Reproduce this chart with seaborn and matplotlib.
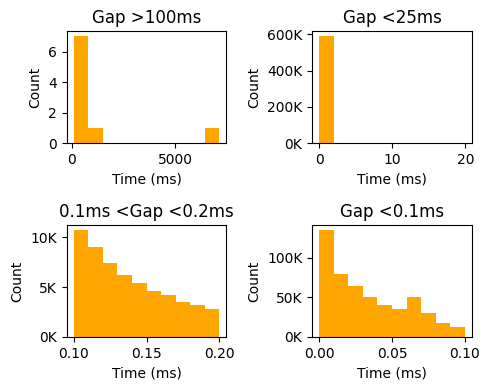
import pandas as pd
import seaborn as sns
import matplotlib.pyplot as plt
from matplotlib.ticker import FuncFormatter

# bin ranges (lo, hi) and counts per bin
gt100_range = (100, 7140)
gt100_counts = [7, 1, 0, 0, 0, 0, 0, 0, 0, 1]

lt25_range = (0, 19.9)
lt25_counts = [589000, 900, 300, 150, 80, 40, 20, 10, 5, 2]

mid_range = (0.1, 0.2)
mid_counts = [10700, 9000, 7420, 6230, 5430, 4640, 4240, 3540, 3150, 2750]

lt01_range = (0.0, 0.1)
lt01_counts = [134600, 79600, 63700, 50800, 40800, 34600, 50800, 30000, 17100, 12900]

panels = [
    ("Gap >100ms", gt100_range, gt100_counts, False),
    ("Gap <25ms", lt25_range, lt25_counts, True),
    ("0.1ms <Gap <0.2ms", mid_range, mid_counts, True),
    ("Gap <0.1ms", lt01_range, lt01_counts, True),
]

kfmt = FuncFormatter(lambda v, pos: f"{v/1000:.0f}K")

fig, axes = plt.subplots(2, 2, figsize=(4.9, 3.89), dpi=100)

for ax, (title, rng, counts, use_k) in zip(axes.flat, panels):
    nb = len(counts)
    w = (rng[1] - rng[0]) / nb
    # one sample at each bin centre, weighted by its count
    df = pd.DataFrame({"time": [rng[0] + w * (i + 0.5) for i in range(nb)],
                       "n": counts})
    sns.histplot(data=df, x="time", weights="n", bins=nb, binrange=rng,
                 color="orange", alpha=1, linewidth=0, ax=ax)
    ax.set_title(title)
    ax.set_xlabel("Time (ms)")
    ax.set_ylabel("Count")
    if use_k:
        ax.yaxis.set_major_formatter(kfmt)

axes[0][0].set_xticks([0, 5000])
axes[0][0].set_yticks([0, 2, 4, 6])
axes[0][1].set_xticks([0, 10, 20])
axes[1][0].set_xticks([0.10, 0.15, 0.20])
axes[1][1].set_xticks([0.00, 0.05, 0.10])
axes[0][1].set_yticks([0, 200000, 400000, 600000])
axes[1][0].set_yticks([0, 5000, 10000])
axes[1][1].set_yticks([0, 50000, 100000])

fig.subplots_adjust(left=0.136, right=0.963, top=0.920, bottom=0.134,
                    wspace=0.536, hspace=0.73)
fig.savefig("out.png")
